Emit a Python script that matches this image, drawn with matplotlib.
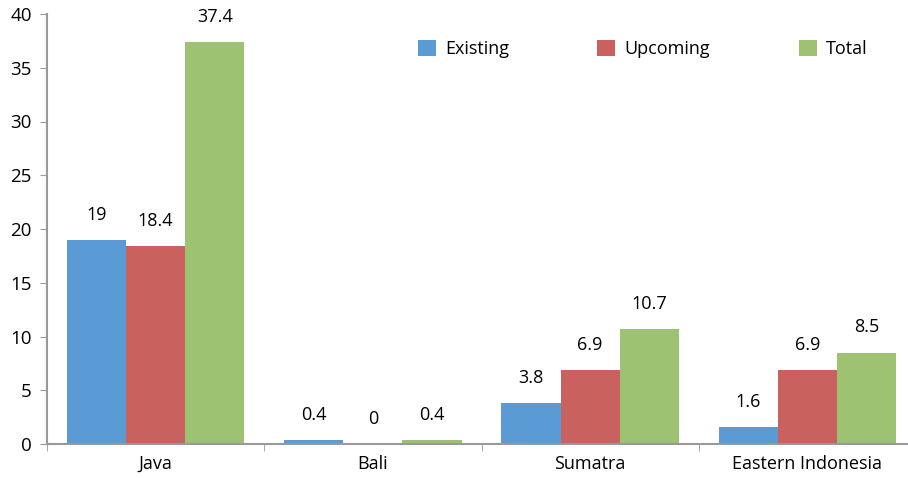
import matplotlib
matplotlib.use("Agg")
import matplotlib.pyplot as plt
import numpy as np

categories = ["Java", "Bali", "Sumatra", "Eastern Indonesia"]
existing = [19, 0.4, 3.8, 1.6]
upcoming = [18.4, 0, 6.9, 6.9]
total = [37.4, 0.4, 10.7, 8.5]
series_names = ["Existing", "Upcoming", "Total"]
colors = ["#5B9BD5", "#C9625E", "#9DC372"]

plt.rcParams['font.family'] = ['Open Sans', 'DejaVu Sans']

fig = plt.figure(figsize=(9.08, 4.78), dpi=100)
ax = fig.add_axes([47/908, 34/478, 869/908, 430/478])

x = np.arange(len(categories))
w = 0.272
for i, (vals, name, c) in enumerate(zip([existing, upcoming, total], series_names, colors)):
    pos = x + (i - 1) * w
    ax.bar(pos, vals, width=w, color=c, label=name, edgecolor='none')
    for p, v in zip(pos, vals):
        ax.text(p, v + 1.5, f"{v:g}", ha='center', va='bottom', fontsize=13, color='black')

ax.set_xlim(-0.5, len(categories) - 0.5)
ax.set_ylim(0, 40)
ax.set_yticks(range(0, 41, 5))
ax.set_xticks(x)
ax.set_xticklabels(categories, fontsize=13)
ax.set_xticks(np.arange(-0.5, len(categories), 1), minor=True)
ax.tick_params(axis='x', which='major', length=0, pad=8)
ax.tick_params(axis='x', which='minor', length=5, color='#999999', direction='out')
ax.tick_params(axis='y', length=5, color='#999999', direction='out', labelsize=13.5, pad=6)
ax.spines[['top', 'right']].set_visible(False)
for s in ['left', 'bottom']:
    ax.spines[s].set_color('#999999')
    ax.spines[s].set_linewidth(1.5)

ax.legend(loc='upper left', bbox_to_anchor=(0.408, 0.978), ncol=3, frameon=False,
          fontsize=13, handlelength=1.0, handleheight=1.0, columnspacing=4.9, handletextpad=0.5)

fig.savefig("out.png", dpi=100)
